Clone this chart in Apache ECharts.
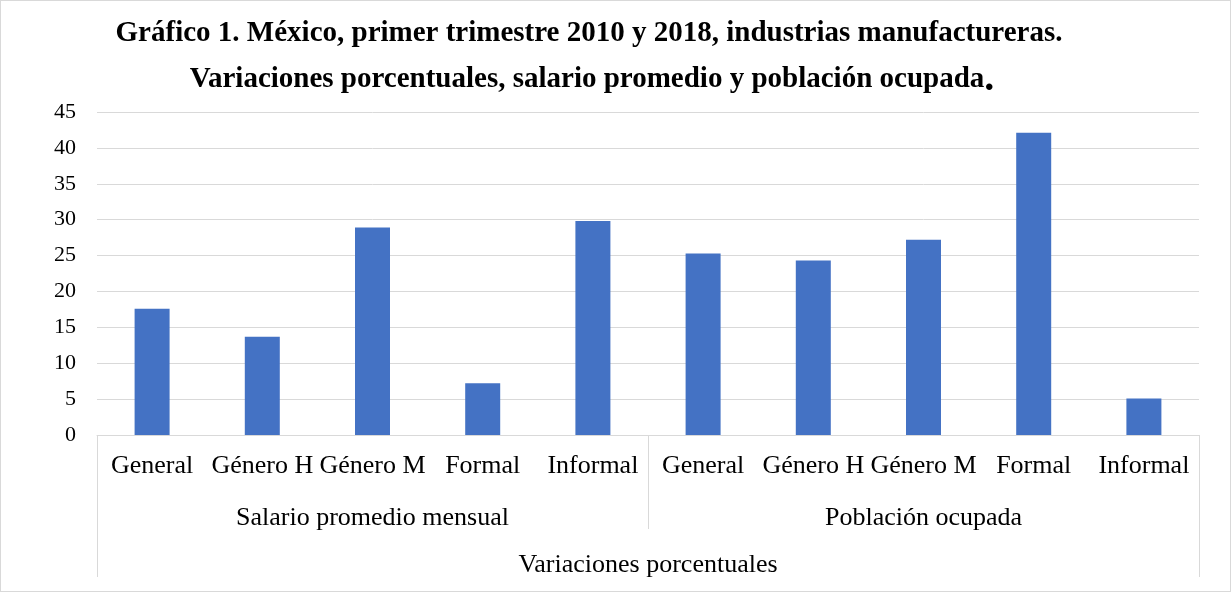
<!DOCTYPE html>
<html>
<head>
<meta charset="utf-8">
<script src="https://cdn.jsdelivr.net/npm/echarts@6/dist/echarts.min.js"></script>
<style>
  html, body { margin: 0; padding: 0; background: #fff; }
  #main { width: 1231px; height: 592px; box-sizing: border-box; border: 1px solid #d9d9d9; }
</style>
</head>
<body>
<div id="main"></div>
<script>
// datos del gráfico
var categorias = ['General', 'Género H', 'Género M', 'Formal', 'Informal',
                  'General', 'Género H', 'Género M', 'Formal', 'Informal'];
var grupos = ['Salario promedio mensual', 'Población ocupada'];
var nivelSuperior = ['Variaciones porcentuales'];
var valores = [17.6, 13.7, 28.9, 7.2, 29.8, 25.3, 24.3, 27.2, 42.1, 5.1];
var ticksY = [0, 5, 10, 15, 20, 25, 30, 35, 40, 45];

var fuente = '"Liberation Serif", "Times New Roman", serif';
var gris = '#d9d9d9';

var myChart = echarts.init(document.getElementById('main'));
var option = {
    animation: false,
    textStyle: {fontFamily: fuente},
    graphic: [
        {
            type: 'text', x: 588, y: 33,
            style: {
                text: 'Gráfico 1. México, primer trimestre 2010 y 2018, industrias manufactureras.',
                font: 'bold 29px ' + fuente, fill: '#000',
                textAlign: 'center', textVerticalAlign: 'middle'
            }
        },
        {
            type: 'text', x: 591, y: 79,
            style: {
                text: '{a|Variaciones porcentuales, salario promedio y población ocupada}{b|.}',
                textAlign: 'center', textVerticalAlign: 'middle',
                rich: {
                    a: {font: 'bold 29px ' + fuente, fill: '#000'},
                    b: {font: 'bold 40px ' + fuente, fill: '#000'}
                }
            }
        }
    ],
    grid: {left: 96, right: 31, top: 111, bottom: 156},
    xAxis: [
        {
            type: 'category',
            data: categorias,
            axisLine: {lineStyle: {color: gris, width: 1}},
            axisTick: {show: false},
            axisLabel: {color: '#000', fontSize: 26, fontFamily: fuente, margin: 18, interval: 0}
        },
        {
            type: 'category',
            data: grupos,
            position: 'bottom',
            axisLine: {show: false},
            axisTick: {show: true, length: 94, lineStyle: {color: gris}},
            axisLabel: {color: '#000', fontSize: 26, fontFamily: fuente, margin: 70, interval: 0}
        },
        {
            type: 'category',
            data: nivelSuperior,
            position: 'bottom',
            axisLine: {show: false},
            axisTick: {show: true, length: 142, lineStyle: {color: gris}},
            axisLabel: {color: '#000', fontSize: 26, fontFamily: fuente, margin: 117, interval: 0}
        }
    ],
    yAxis: {
        type: 'value',
        min: ticksY[0],
        max: ticksY[ticksY.length - 1],
        interval: 5,
        axisLine: {show: false},
        axisTick: {show: false},
        axisLabel: {color: '#000', fontSize: 22, fontFamily: fuente, margin: 21},
        splitLine: {lineStyle: {color: gris, width: 1}}
    },
    series: [
        {
            type: 'bar',
            data: valores,
            barWidth: 35,
            itemStyle: {color: '#4472c4'}
        }
    ]
};
myChart.setOption(option);
</script>
</body>
</html>
